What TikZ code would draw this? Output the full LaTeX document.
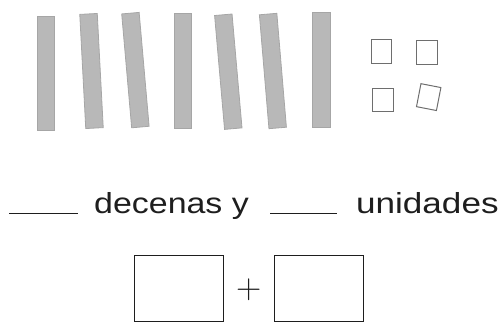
\documentclass[tikz,border=0pt]{standalone}
\usepackage{fontspec}
\newfontfamily\labelfont{Liberation Sans}
\definecolor{rodfill}{HTML}{B8B8B8}
\definecolor{rodline}{HTML}{A6A6A6}
\definecolor{unitline}{HTML}{6E6E6E}
\definecolor{inkdark}{HTML}{1E1E1E}
\tikzset{
  rod/.style={draw=rodline, fill=rodfill, line width=0.8pt, inner sep=0pt,
              minimum width=17.5pt, minimum height=114.3pt},
  unitsq/.style={draw=unitline, line width=1pt, inner sep=0pt,
                 minimum width=20.3pt, minimum height=23.4pt},
  ansbox/.style={draw=inkdark, line width=1.1pt, inner sep=0pt,
                 minimum width=89pt, minimum height=66pt},
  lbl/.style={inner sep=0pt, text=inkdark, font=\labelfont\fontsize{29}{35}\selectfont},
  blank/.style={draw=inkdark, line width=1.3pt}
}
\begin{document}
\begin{tikzpicture}[x=1pt,y=-1pt]
\useasboundingbox (0,0) rectangle (504,322);
% tens rods
\node[rod] (r1) at (45.85,73.2) {};
\node[rod, rotate=3] (r2) at (91.5,71) {};
\node[rod, rotate=5] (r3) at (135.4,70.1) {};
\node[rod] (r4) at (183,71) {};
\node[rod, rotate=5] (r5) at (228.3,71.7) {};
\node[rod, rotate=4.8] (r6) at (272.9,71) {};
\node[rod] (r7) at (321.2,70) {};
% unit squares
\node[unitsq] (u1) at (381.3,51.5) {};
\node[unitsq] (u2) at (427,52.5) {};
\node[unitsq] (u3) at (383,99.7) {};
\node[unitsq, rotate=-11] (u4) at (428.7,97.1) {};
% sentence
\coordinate (l1a) at (9.3,213.3);
\coordinate (l1b) at (77.7,213.3);
\coordinate (l2a) at (270,213.3);
\coordinate (l2b) at (337.3,213.3);
\draw[blank] (l1a) -- (l1b);
\draw[blank] (l2a) -- (l2b);
\node[lbl, anchor=base west] (dec) at (94,213.3) {\scalebox{1.17}[1]{decenas y}};
\node[lbl, anchor=base east] (uni) at (498.8,213.3) {\scalebox{1.21}[1]{unidades}};
% answer boxes
\node[ansbox] (b1) at (179.3,288.75) {};
\node[ansbox] (b2) at (319,288.75) {};
\node[inner sep=0pt, text=inkdark, font=\fontsize{35}{40}\selectfont, anchor=base] (plus) at (249.3,298.75) {+};
\end{tikzpicture}
\end{document}
